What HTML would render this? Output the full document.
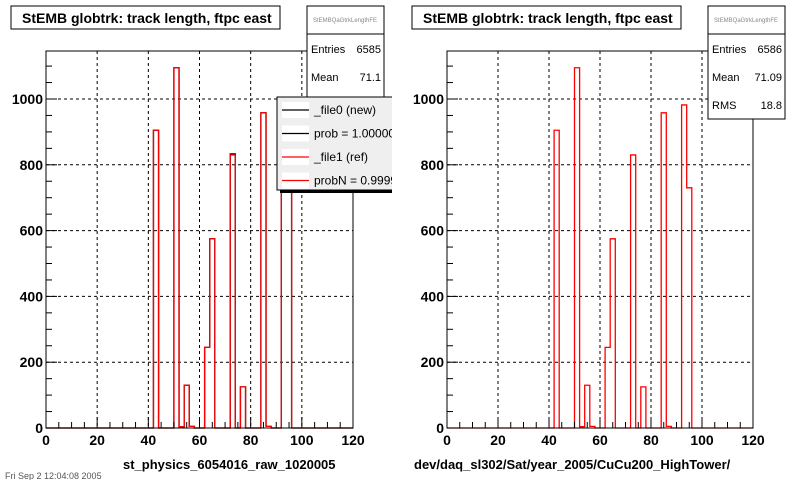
<!DOCTYPE html>
<html><head><meta charset="utf-8"><style>
body{margin:0;background:#fff;}
svg{display:block;font-family:"Liberation Sans",Arial,sans-serif;}
</style></head><body>
<svg id="c" width="800" height="480" viewBox="0 0 800 480">
<defs><clipPath id="lp"><rect x="0" y="0" width="392" height="480"/></clipPath></defs>
<g id="left"></g>
<g id="right"></g>
</svg>
<script>
const binEdges=[0,2,4,6,8,10,12,14,16,18,20,22,24,26,28,30,32,34,36,38,40,42,44,46,48,50,52,54,56,58,60,62,64,66,68,70,72,74,76,78,80,82,84,86,88,90,92,94,96,98,100,102,104,106,108,110,112,114,116,118,120];
const binStarts=[42,50,52,54,56,62,64,72,76,84,86,92,94];
const refCounts=[905,1095,4,130,5,245,575,830,125,958,5,982,730];
const newCounts=[905,1095,4,130,5,245,575,833,125,958,5,982,730];
const xTicks=[0,20,40,60,80,100,120];
const yTicks=[0,200,400,600,800,1000];
const NS='http://www.w3.org/2000/svg';
function mk(p,t,a,txt){const e=document.createElementNS(NS,t);for(const k in a)e.setAttribute(k,a[k]);if(txt!==undefined)e.textContent=txt;p.appendChild(e);return e;}
function panel(g,x0,x1,xlabel,stats,legend){
  const y0=428,yT=51;
  const sx=v=>x0+(v-0)/(120)*(x1-x0);
  const sy=v=>y0-v*0.329;
  mk(g,'rect',{x:x0,y:yT,width:x1-x0,height:y0-yT,fill:'#fff',stroke:'none'});
  xTicks.slice(1,-1).forEach(v=>{const l=mk(g,'line',{x1:sx(v),x2:sx(v),y1:yT,y2:y0,stroke:'#000','stroke-dasharray':'3,3','stroke-width':1});

});
  yTicks.slice(1).forEach(v=>{const l=mk(g,'line',{x1:x0,x2:x1,y1:sy(v),y2:sy(v),stroke:'#000','stroke-dasharray':'3,3','stroke-width':1});

});
  function hist(counts,color,name){
    let d='M'+sx(0)+','+y0;
    binEdges.slice(0,-1).forEach(e=>{const i=binStarts.indexOf(e);const c=i<0?0:counts[i];d+=' L'+sx(e)+','+sy(c)+' L'+sx(e+2)+','+sy(c);});
    d+=' L'+sx(120)+','+y0;
    const p=mk(g,'path',{d:d,fill:'none',stroke:color,'stroke-width':1.3});
    
    
  }
  if(legend)hist(newCounts,'#000','histogram-new');
  hist(refCounts,'#f00','histogram-ref');
  mk(g,'rect',{x:x0,y:yT,width:x1-x0,height:y0-yT,fill:'none',stroke:'#000','stroke-width':1});
  for(let v=0;v<=120;v+=5){const big=v%20===0;mk(g,'line',{x1:sx(v),x2:sx(v),y1:y0,y2:y0-(big?11:6),stroke:'#000'});}
  for(let v=0;v<=1100;v+=50){const big=v%200===0;mk(g,'line',{x1:x0,x2:x0+(big?11:6),y1:sy(v),y2:sy(v),stroke:'#000'});}
  xTicks.forEach(v=>{const t=mk(g,'text',{x:sx(v),y:445,'font-size':14,'font-weight':'bold','text-anchor':'middle'},v);

});
  yTicks.forEach(v=>{const t=mk(g,'text',{x:x0-3,y:sy(v)+5,'font-size':14,'font-weight':'bold','text-anchor':'end'},v);

});
  const xl=mk(g,'text',{x:x0+(xlabel.length>30?-33:77),y:469,'font-size':13,'font-weight':'bold'},xlabel);
  
  
  const tg=mk(g,'g',{});
  
  
  mk(tg,'rect',{x:x0-35,y:6,width:269,height:23,fill:'#fff',stroke:'#000'});
  mk(tg,'text',{x:x0-24,y:23,'font-size':14,'font-weight':'bold'},'StEMB globtrk: track length, ftpc east');
  const sg=mk(g,'g',{});
  
  
  const sxb=x0+261;
  mk(sg,'rect',{x:sxb,y:6,width:77,height:113,fill:'#fff',stroke:'#000'});
  mk(sg,'line',{x1:sxb,x2:sxb+77,y1:34,y2:34,stroke:'#000'});
  mk(sg,'text',{x:sxb+38,y:22,'font-size':6,fill:'#888','text-anchor':'middle'},'StEMBQaGtrkLengthFE');
  stats.forEach((s,i)=>{mk(sg,'text',{x:sxb+4,y:53+28*i,'font-size':11},s[0]);mk(sg,'text',{x:sxb+74,y:53+28*i,'font-size':11,'text-anchor':'end'},s[1]);});
  if(legend){
    const lg=mk(g,'g',{});
    
    
    mk(lg,'rect',{x:280,y:100,width:120,height:93,fill:'#000'});
    mk(lg,'rect',{x:277,y:97,width:120,height:93,fill:'#efefef',stroke:'#000'});
    [['_file0 (new)','#000'],['prob = 1.000000','#000'],['_file1 (ref)','#f00'],['probN = 0.999970','#f00']].forEach((e,i)=>{
      const y=110+23.5*i;
      mk(lg,'rect',{x:282,y:y-8,width:27,height:16,fill:'#fff'});
      mk(lg,'line',{x1:282,x2:309,y1:y,y2:y,stroke:e[1],'stroke-width':1.3});
      mk(lg,'text',{x:314,y:y+4,'font-size':12},e[0]);
    });
  }
}
const L=document.getElementById('left');L.setAttribute('clip-path','url(#lp)');
panel(L,46,353,'st_physics_6054016_raw_1020005',[['Entries','6585'],['Mean','71.1'],['RMS','18.8']],true);
panel(document.getElementById('right'),447,753,'dev/daq_sl302/Sat/year_2005/CuCu200_HighTower/',[['Entries','6586'],['Mean','71.09'],['RMS','18.8']],false);
const ft=mk(document.getElementById('c'),'text',{x:5,y:479,'font-size':9,fill:'#555'},'Fri Sep  2 12:04:08 2005');


</script>
</body></html>
